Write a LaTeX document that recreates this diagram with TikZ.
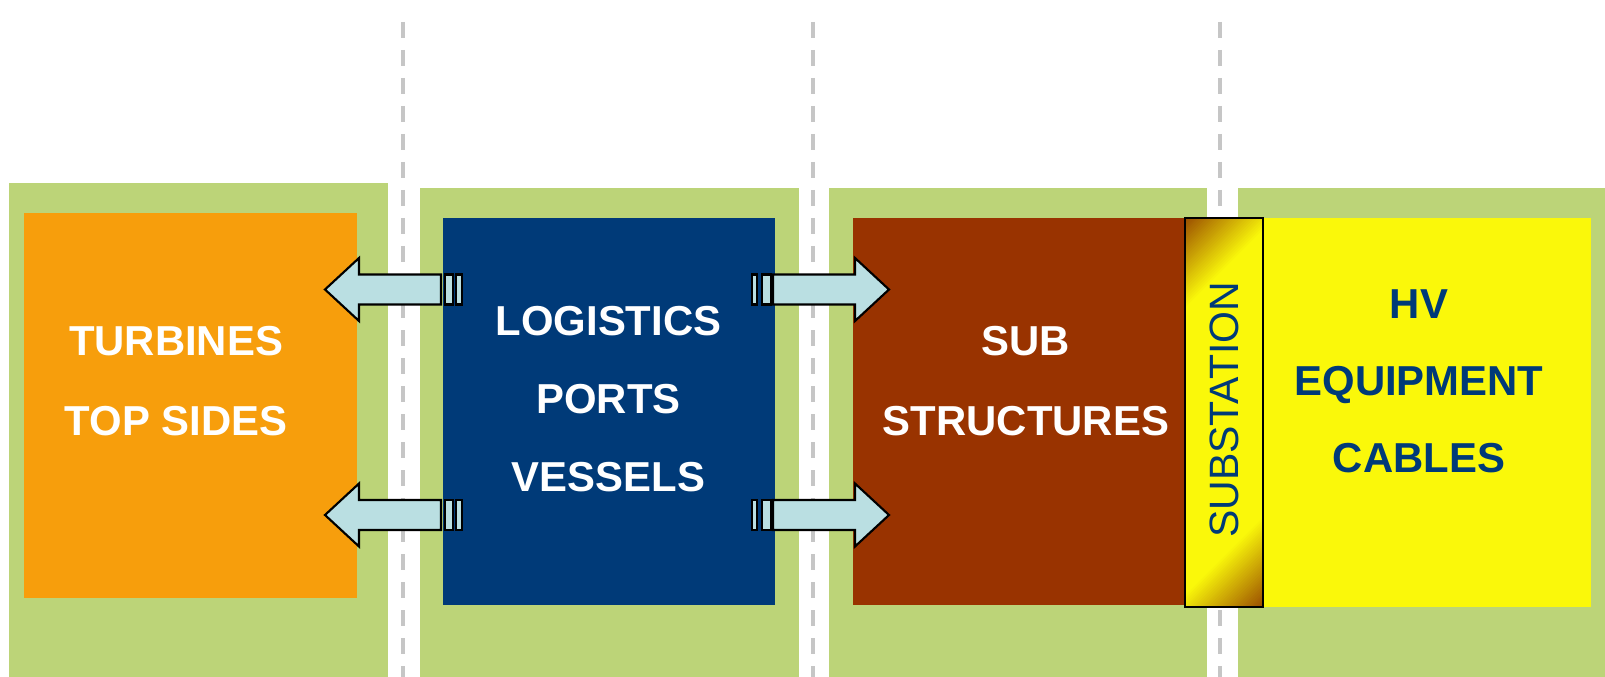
\documentclass[tikz,border=0pt]{standalone}
\usepackage{fontspec}
\setmainfont{Liberation Sans}
\definecolor{panelgreen}{RGB}{188,212,120}
\definecolor{orangec}{RGB}{247,158,12}
\definecolor{bluec}{RGB}{0,58,120}
\definecolor{brownc}{RGB}{153,51,0}
\definecolor{yellowc}{RGB}{250,248,10}
\definecolor{subbrown}{RGB}{150,70,0}
\definecolor{textblue}{RGB}{0,58,120}
\definecolor{arrowblue}{RGB}{186,223,226}
\definecolor{divgray}{RGB}{198,198,198}
\begin{document}
\begin{tikzpicture}[x=0.75pt,y=-0.75pt,
  panel/.style={fill=panelgreen},
  lbl/.style={font=\bfseries\fontsize{31.4}{60}\selectfont,align=center,anchor=base,inner sep=0pt},
  blockarrow/.style={fill=arrowblue,draw=black,line width=1.6pt,line join=miter},
  divider/.style={draw=divgray,line width=3pt,dash pattern=on 12pt off 9pt}]
\useasboundingbox (0,0) rectangle (1605,677);
\fill[white] (0,0) rectangle (1605,677);
% dashed dividers
\coordinate (d1t) at (403,22); \coordinate (d1b) at (403,677);
\coordinate (d2t) at (813,22); \coordinate (d2b) at (813,677);
\coordinate (d3t) at (1220,22); \coordinate (d3b) at (1220,677);
\draw[divider] (d1t) -- (d1b);
\draw[divider] (d2t) -- (d2b);
\draw[divider] (d3t) -- (d3b);
% green panels
\fill[panel] (9,183) rectangle (388,677);
\fill[panel] (420,188) rectangle (799,677);
\fill[panel] (829,188) rectangle (1207,677);
\fill[panel] (1238,188) rectangle (1605,677);
% boxes
\fill[orangec] (24,213) rectangle (357,598);
\fill[bluec] (443,218) rectangle (775,605);
\fill[brownc] (853,218) rectangle (1185,605);
\fill[yellowc] (1263,218) rectangle (1591,607);
% substation gradient
\begin{scope}
\clip (1185,218) rectangle (1263,607);
\fill[yellowc] (1185,218) rectangle (1263,607);
\foreach \i in {0,...,33} {
  \pgfmathsetmacro\s{(-100-\i*2)*1.41421}
  \pgfmathsetmacro\t{(100+\i*2)*1.41421}
  \pgfmathtruncatemacro\m{\i*3}
  \fill[subbrown!\m!yellowc, shift={(1224,412.5)}]
    (-400,\s+400) -- (400,\s-400) -- (400,-1000) -- (-1000,-1000) -- (-1000,\s+400) -- cycle;
  \fill[subbrown!\m!yellowc, shift={(1224,412.5)}]
    (-400,\t+400) -- (400,\t-400) -- (1000,\t-400) -- (1000,1000) -- (-400,1000) -- cycle;
}
\end{scope}
\draw[black,line width=1.8pt] (1185,218) rectangle (1263,607);
\node[rotate=90,anchor=base,inner sep=0pt,text=textblue,font=\fontsize{30.75}{36}\selectfont] (subst) at (1238,410) {SUBSTATION};
% labels (anchor = baseline of last line)
\node[lbl,text=white] (turbines) at (176,435) {TURBINES\\TOP SIDES};
\node[lbl,text=white,font=\bfseries\fontsize{31.4}{58.5}\selectfont] (logistics) at (608.5,491) {LOGISTICS\\PORTS\\VESSELS};
\node[lbl,text=white] (sub) at (1026,435) {SUB\\STRUCTURES};
\node[lbl,text=textblue,font=\bfseries\fontsize{31.4}{57.4}\selectfont] (hv) at (1419,472) {HV\\EQUIPMENT\\CABLES};
% block arrows
\foreach \yc in {289.5,515} {
  \draw[blockarrow] (441,\yc-15) -- (359,\yc-15) -- (359,\yc-31.5) -- (325,\yc) -- (359,\yc+31.5) -- (359,\yc+15) -- (441,\yc+15) -- cycle;
  \draw[blockarrow] (445,\yc-15) rectangle (453,\yc+15);
  \draw[blockarrow] (456,\yc-15) rectangle (462,\yc+15);
  \draw[blockarrow] (773,\yc-15) -- (855,\yc-15) -- (855,\yc-31.5) -- (889,\yc) -- (855,\yc+31.5) -- (855,\yc+15) -- (773,\yc+15) -- cycle;
  \draw[blockarrow] (762,\yc-15) rectangle (771,\yc+15);
  \draw[blockarrow] (752,\yc-15) rectangle (757,\yc+15);
}
\end{tikzpicture}
\end{document}
